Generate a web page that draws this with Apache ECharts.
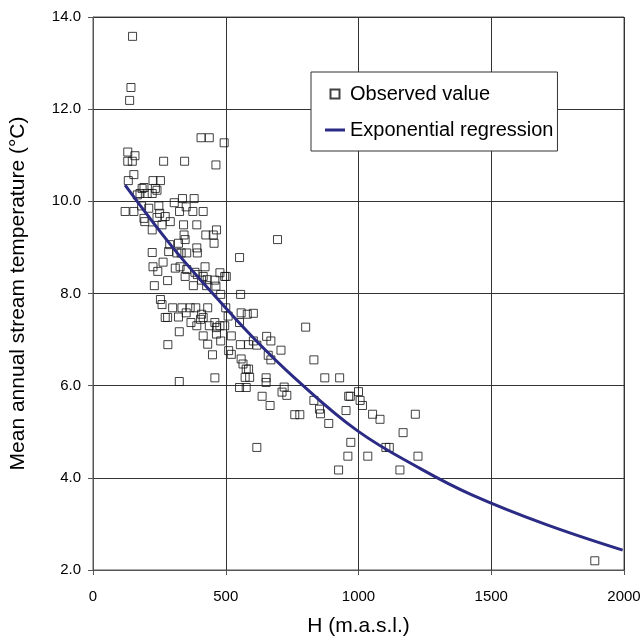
<!DOCTYPE html>
<html>
<head>
<meta charset="utf-8">
<script src="https://cdn.jsdelivr.net/npm/echarts@6/dist/echarts.min.js"></script>
<style>
  html, body { margin: 0; padding: 0; background: #fff; }
  #chart { width: 644px; height: 642px; }
</style>
</head>
<body>
<div id="chart"></div>
<script>
// observed stations: altitude (m.a.s.l.) and mean annual stream temperature (°C)
const obsH = [
  149, 143, 138, 407, 438, 494, 131, 158, 131, 148, 266, 345, 463, 154,
  133, 226, 254, 185, 192, 235, 177, 204, 223, 167, 241,
  337, 381, 306, 351, 326, 376, 415, 121, 154, 183, 210, 248, 251, 241, 192, 195,
  272, 291, 260, 223, 341, 391, 425, 453, 465, 456,
  343, 347, 322, 289, 285, 316, 332, 353, 391, 393,
  223, 264, 226, 244, 310, 328, 353, 347, 384, 393,
  422, 415, 409, 430, 459, 478, 496, 502, 463, 231,
  281, 378, 428, 481, 556, 254, 260, 300, 335, 366,
  387, 432, 272, 281, 322, 351, 369, 391, 409, 415,
  405, 438, 459, 465, 478, 496, 509, 500, 558, 581,
  552, 325, 415, 432, 465, 481, 521, 555, 586, 282,
  450, 511, 521, 558, 565, 577, 586, 573, 590, 325,
  459, 552, 577, 695, 552,
  604, 801, 654, 670, 604, 617, 708, 660, 670, 832,
  652, 652, 873, 929, 720, 712, 730, 637, 667,
  1000, 1006, 1015, 963, 969, 832, 853, 857, 760, 779,
  888, 953, 1053, 1081, 1214, 1168, 617, 971, 960, 1035,
  1103, 1116, 1224, 925, 1156, 1890
];
const obsT = [
  13.58, 12.47, 12.19, 11.38, 11.38, 11.27, 11.07, 10.99, 10.87, 10.87, 10.87, 10.87, 10.79, 10.58,
  10.45, 10.45, 10.45, 10.28, 10.30, 10.28, 10.17, 10.17, 10.17, 10.14, 10.24,
  10.06, 10.06, 9.97, 9.88, 9.78, 9.78, 9.78, 9.78, 9.78, 9.90, 9.85, 9.90, 9.74, 9.65, 9.63, 9.56,
  9.67, 9.56, 9.49, 9.38, 9.49, 9.49, 9.27, 9.27, 9.38, 9.09,
  9.27, 9.17, 9.09, 9.06, 8.91, 8.88, 8.88, 8.88, 8.99, 8.88,
  8.89, 8.68, 8.58, 8.48, 8.55, 8.58, 8.52, 8.37, 8.46, 8.41,
  8.58, 8.37, 8.29, 8.30, 8.29, 8.45, 8.37, 8.37, 8.16, 8.17,
  8.28, 8.17, 8.17, 7.98, 7.98, 7.87, 7.76, 7.69, 7.69, 7.69,
  7.69, 7.69, 7.48, 7.48, 7.49, 7.58, 7.37, 7.30, 7.55, 7.48,
  7.44, 7.30, 7.37, 7.26, 7.30, 7.30, 7.51, 7.69, 7.58, 7.55,
  7.37, 7.17, 7.08, 6.90, 7.12, 6.97, 7.08, 6.89, 6.89, 6.89,
  6.67, 6.76, 6.68, 6.58, 6.47, 6.36, 6.36, 6.18, 6.18, 6.09,
  6.17, 5.96, 5.96, 9.17, 8.78,
  7.57, 7.27, 7.07, 6.97, 6.97, 6.88, 6.77, 6.66, 6.56, 6.56,
  6.17, 6.07, 6.17, 6.17, 5.97, 5.86, 5.79, 5.77, 5.57,
  5.87, 5.68, 5.57, 5.77, 5.77, 5.68, 5.49, 5.39, 5.37, 5.37,
  5.18, 5.46, 5.38, 5.27, 5.38, 4.98, 4.66, 4.77, 4.47, 4.47,
  4.66, 4.66, 4.47, 4.17, 4.17, 2.2
];

// regression curve
const curveH = [121, 300, 451, 600, 757, 994, 1233, 1427, 1700, 1995];
const curveT = [10.35, 9.0, 8.0, 7.06, 6.18, 5.03, 4.20, 3.63, 3.0, 2.43];

const xTicks = { min: 0, max: 2000, interval: 500 };
const yTicks = { min: 2, max: 14, interval: 2 };

const FONT = "'Liberation Sans', Arial, sans-serif";
const LINE_COLOR = "#2b2b86";

const chart = echarts.init(document.getElementById("chart"));

chart.setOption({
  animation: false,
  backgroundColor: "#fff",
  textStyle: { fontFamily: FONT },
  grid: { left: 92, right: 20, top: 17, bottom: 68, show: true, borderColor: "#555", borderWidth: 1 },
  legend: {
    orient: "vertical",
    left: 311,
    top: 72,
    padding: [12, 4, 11, 14],
    itemWidth: 20,
    itemHeight: 9,
    itemGap: 16,
    backgroundColor: "#fff",
    borderColor: "#333",
    borderWidth: 1,
    borderRadius: 0,
    textStyle: { fontSize: 20, color: "#000", fontFamily: FONT },
    data: [
      { name: "Observed value", icon: "path://M0,0H9V9H0Z" },
      { name: "Exponential regression", icon: "path://M0,0H20V3H0Z", itemStyle: { color: LINE_COLOR, borderWidth: 0 } },
    ],
  },
  xAxis: {
    type: "value",
    ...xTicks,
    name: "H (m.a.s.l.)",
    nameLocation: "middle",
    nameGap: 46,
    nameTextStyle: { fontSize: 21, color: "#000", fontFamily: FONT },
    axisLine: { show: true, lineStyle: { color: "#555" } },
    axisTick: { show: true, length: 5, lineStyle: { color: "#555" } },
    axisLabel: { fontSize: 15, color: "#000", margin: 19, fontFamily: FONT, formatter: (v) => String(v) },
    splitLine: { show: true, lineStyle: { color: "#333", width: 1 } },
  },
  yAxis: {
    type: "value",
    ...yTicks,
    name: "Mean annual stream temperature (°C)",
    nameLocation: "middle",
    nameGap: 64,
    nameTextStyle: { fontSize: 21, color: "#000", fontFamily: FONT },
    axisLine: { show: true, lineStyle: { color: "#555" } },
    axisTick: { show: true, length: 5, lineStyle: { color: "#555" } },
    axisLabel: { fontSize: 15, color: "#000", margin: 12, fontFamily: FONT, formatter: (v) => v.toFixed(1) },
    splitLine: { show: true, lineStyle: { color: "#333", width: 1 } },
  },
  series: [
    {
      name: "Observed value",
      type: "scatter",
      symbol: "rect",
      symbolSize: 8,
      itemStyle: { color: "rgba(255,255,255,0)", borderColor: "#111", borderWidth: 1 },
      data: obsH.map((h, i) => [h, obsT[i]]),
      z: 3,
    },
    {
      name: "Exponential regression",
      type: "line",
      smooth: 0.4,
      showSymbol: false,
      lineStyle: { color: LINE_COLOR, width: 3 },
      itemStyle: { color: LINE_COLOR },
      data: curveH.map((h, i) => [h, curveT[i]]),
      z: 4,
    },
  ],
});
</script>
</body>
</html>
